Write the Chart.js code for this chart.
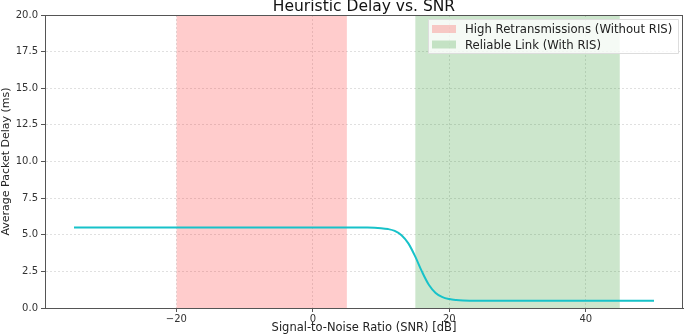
<!DOCTYPE html>
<html>
<head>
<meta charset="utf-8">
<script src="https://cdn.jsdelivr.net/npm/chart.js@4.4.1/dist/chart.umd.min.js"></script>
<style>
  html, body { margin: 0; padding: 0; background: #fff; }
  #wrap { width: 685px; height: 336px; }
</style>
</head>
<body>
<div id="wrap"><canvas id="c" width="685" height="336"></canvas></div>
<script>
// SNR values (dB) and delay (ms)
const snrPoints = [-35, 0, 8, 10, 11, 12, 13, 14, 15, 16, 17, 18, 19, 20, 21, 22, 24, 30, 50];
const delayPoints = [5.5, 5.5, 5.49, 5.45, 5.39, 5.26, 4.97, 4.41, 3.52, 2.48, 1.59, 1.03, 0.74, 0.61, 0.55, 0.52, 0.50, 0.50, 0.50];

// shaded regions
const highRetxRange = [-20, 5];
const reliableRange = [15, 45];
const yMax = 20;

const xTicks = [-20, 0, 20, 40];
const yTicks = [0, 2.5, 5, 7.5, 10, 12.5, 15, 17.5, 20];

const legendLabels = ['High Retransmissions (Without RIS)', 'Reliable Link (With RIS)'];
const legendColors = ['rgba(255,0,0,0.2)', 'rgba(0,128,0,0.2)'];

const FONT = "'DejaVu Sans', sans-serif";

// frame around plot + inside legend + title
const framePlugin = {
  id: 'frame',
  afterDraw(chart) {
    const { ctx, chartArea: a } = chart;
    ctx.save();
    ctx.strokeStyle = '#555';
    ctx.lineWidth = 1;
    ctx.strokeRect(a.left + 0.5, a.top + 0.5, a.right - a.left - 1, a.bottom - a.top);

    // legend box
    const bw = 250, bh = 34;
    const bx = a.right - bw - 5, by = a.top + 4;
    ctx.fillStyle = 'rgba(255,255,255,0.8)';
    ctx.strokeStyle = '#ddd';
    ctx.beginPath();
    ctx.rect(bx + 0.5, by + 0.5, bw, bh);
    ctx.fill();
    ctx.stroke();
    ctx.font = '11.7px ' + FONT;
    ctx.textBaseline = 'middle';
    legendLabels.forEach((lab, i) => {
      const y = by + 10 + i * 15.5;
      ctx.fillStyle = legendColors[i];
      ctx.fillRect(bx + 4, y - 4, 24, 8);
      ctx.fillStyle = '#222';
      ctx.fillText(lab, bx + 37, y + 1);
    });

    // title, partly cut at the top like the original
    ctx.font = '15.5px ' + FONT;
    ctx.textAlign = 'center';
    ctx.textBaseline = 'alphabetic';
    ctx.fillStyle = '#111';
    ctx.fillText('Heuristic Delay vs. SNR', (a.left + a.right) / 2, 11);
    ctx.restore();
  }
};

const toXY = (xs, ys) => xs.map((x, i) => ({ x: x, y: ys[i] }));
const band = r => [{ x: r[0], y: yMax }, { x: r[1], y: yMax }];

new Chart(document.getElementById('c'), {
  type: 'line',
  data: {
    datasets: [
      {
        label: 'Delay',
        data: toXY(snrPoints, delayPoints),
        borderColor: '#17c2c9',
        borderWidth: 2,
        pointRadius: 0,
        cubicInterpolationMode: 'monotone',
        fill: false,
        order: 0
      },
      {
        label: legendLabels[0],
        data: band(highRetxRange),
        backgroundColor: legendColors[0],
        borderWidth: 0,
        pointRadius: 0,
        fill: 'origin',
        order: 1
      },
      {
        label: legendLabels[1],
        data: band(reliableRange),
        backgroundColor: legendColors[1],
        borderWidth: 0,
        pointRadius: 0,
        fill: 'origin',
        order: 2
      }
    ]
  },
  options: {
    responsive: false,
    animation: false,
    layout: { padding: { top: 15, right: 2, left: 0, bottom: 0 } },
    plugins: {
      legend: { display: false },
      title: { display: false },
      tooltip: { enabled: false }
    },
    scales: {
      x: {
        type: 'linear',
        min: -39.25,
        max: 54.25,
        afterBuildTicks: s => { s.ticks = xTicks.map(v => ({ value: v })); },
        afterFit: s => { s.height = 28; },
        grid: {
          color: 'rgba(0,0,0,0.12)',
          tickColor: '#555',
          tickLength: 4
        },
        border: { color: '#555', dash: [2, 2] },
        ticks: {
          color: '#333',
          font: { family: FONT, size: 10 },
          padding: 1,
          maxRotation: 0,
          callback: v => (v < 0 ? '\u2212' + Math.abs(v) : String(v))
        },
        title: {
          display: true,
          text: 'Signal-to-Noise Ratio (SNR) [dB]',
          color: '#222',
          font: { family: FONT, size: 11.5 },
          padding: { top: 0, bottom: 1 }
        }
      },
      y: {
        min: 0,
        max: yMax,
        afterBuildTicks: s => { s.ticks = yTicks.map(v => ({ value: v })); },
        afterFit: s => { s.width = 45; },
        grid: {
          color: 'rgba(0,0,0,0.12)',
          tickColor: '#555',
          tickLength: 4
        },
        border: { color: '#555', dash: [2, 2] },
        ticks: {
          color: '#333',
          font: { family: FONT, size: 10 },
          padding: 3,
          callback: v => v.toFixed(1)
        },
        title: {
          display: true,
          text: 'Average Packet Delay (ms)',
          color: '#222',
          font: { family: FONT, size: 11 },
          padding: { top: 0, bottom: 0 }
        }
      }
    }
  },
  plugins: [framePlugin]
});
</script>
</body>
</html>
